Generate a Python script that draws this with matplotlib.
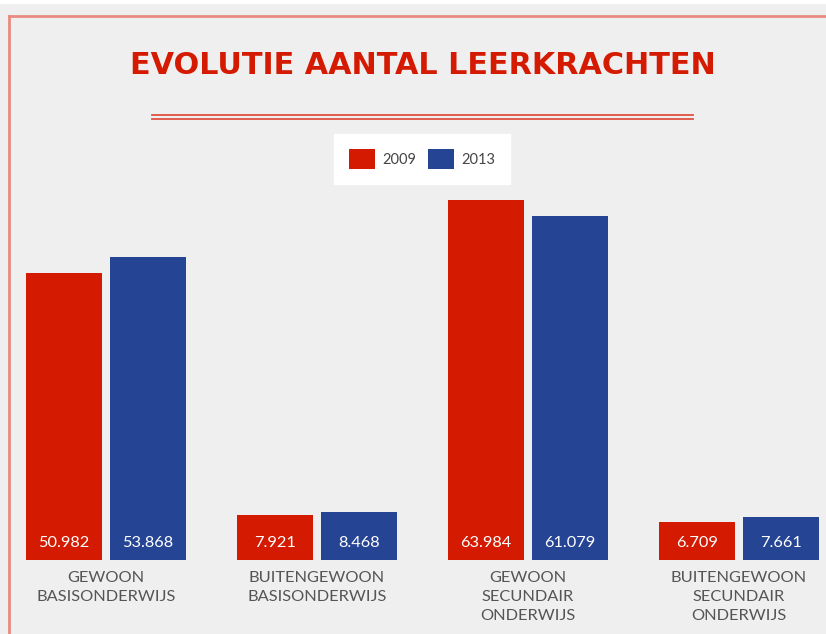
import matplotlib.pyplot as plt
import numpy as np
from matplotlib.patches import Rectangle
from matplotlib.lines import Line2D

categories = ["GEWOON\nBASISONDERWIJS", "BUITENGEWOON\nBASISONDERWIJS",
              "GEWOON\nSECUNDAIR\nONDERWIJS", "BUITENGEWOON\nSECUNDAIR\nONDERWIJS"]
years = ["2009", "2013"]
values_2009 = [50982, 7921, 63984, 6709]
values_2013 = [53868, 8468, 61079, 7661]

red = "#d41a00"
blue = "#264494"
bg = "#efefef"
W, H = 826, 634

fig = plt.figure(figsize=(W / 100, H / 100), dpi=100)
fig.patch.set_facecolor(bg)

# white strip at the very top
fig.add_artist(Rectangle((0, 1 - 4 / H), 1, 4 / H, transform=fig.transFigure,
                         facecolor="white", edgecolor="none"))
# salmon frame
fig.add_artist(Line2D([9 / W, 1], [1 - 16 / H] * 2, transform=fig.transFigure,
                      color="#e88a80", lw=2))
fig.add_artist(Line2D([9 / W] * 2, [0, 1 - 16 / H], transform=fig.transFigure,
                      color="#e88a80", lw=2))

fig.text(423 / W, 1 - 66 / H, "EVOLUTIE AANTAL LEERKRACHTEN", color=red,
         fontsize=21.8, fontweight="bold", ha="center", va="center",
         family="DejaVu Sans")
for yy in (115, 119):
    fig.add_artist(Line2D([152 / W, 693 / W], [1 - yy / H] * 2,
                          transform=fig.transFigure, color="#e05040", lw=1.3))

# axes: group centre 0 at px 106, 211 px per group, baseline at px 560
ax = fig.add_axes([0, (H - 560) / H, 1, (560 - 166) / H])
ax.set_facecolor("none")
x = np.arange(len(categories))
width = 76 / 211
off = 42 / 211
b1 = ax.bar(x - off, values_2009, width, color=red, label=years[0])
b2 = ax.bar(x + off, values_2013, width, color=blue, label=years[1])
ax.set_xlim(-106 / 211, (W - 106) / 211)
ax.set_ylim(0, 70000)
ax.axis("off")

for bars, vals in ((b1, values_2009), (b2, values_2013)):
    for b, v in zip(bars, vals):
        ax.text(b.get_x() + b.get_width() / 2, 3000,
                f"{v:,}".replace(",", "."), color="white", ha="center",
                va="center", fontsize=11.8, family="Lato")

for xi, lab in zip(x, categories):
    ax.text(xi, -1900, lab, ha="center", va="top", color="#555555",
            fontsize=11.8, family="Lato", linespacing=1.48)

leg = fig.legend(handles=[b1, b2], labels=years, loc="center",
                 bbox_to_anchor=(422 / W, 1 - 159 / H), ncol=2, frameon=True,
                 fancybox=False, edgecolor="white", facecolor="white",
                 framealpha=1, handlelength=1.8, handleheight=1.8,
                 handletextpad=0.5, columnspacing=0.8, borderpad=1.0,
                 prop={"family": "Lato", "size": 10.5})
for t in leg.get_texts():
    t.set_color("#444444")

plt.savefig("out.png", dpi=100, facecolor=bg)
